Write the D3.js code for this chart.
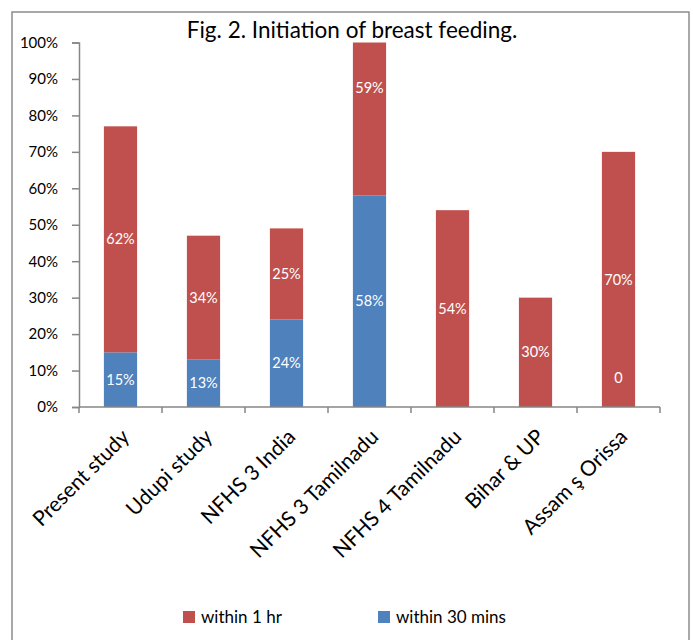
<!DOCTYPE html>
<html><head><meta charset="utf-8">
<script src="https://cdn.jsdelivr.net/npm/d3@7"></script>
<style>
body{margin:0;background:#fff;}
svg{display:block;font-family:Lato,"Open Sans",sans-serif;}
</style></head>
<body><svg id="c" width="693" height="640"></svg>
<script>
const categories = ["Present study","Udupi study","NFHS 3 India","NFHS 3 Tamilnadu","NFHS 4 Tamilnadu","Bihar & UP","Assam \u015F Orissa"];
const within30 = [15, 13, 24, 58, null, null, 0];
const within1hr = [62, 34, 25, 59, 54, 30, 70];
const yTicks = [0,10,20,30,40,50,60,70,80,90,100];
const seriesNames = ["within 1 hr","within 30 mins"];
const colors = {hr:"#C0504D", mins:"#4F81BD"};

const svg = d3.select("#c");
// frame
svg.append("rect").attr("x",12).attr("y",12).attr("width",677).attr("height",640)
  .attr("fill","none").attr("stroke","#8c8c8c").attr("stroke-width",1.5);

svg.append("text").attr("x",352).attr("y",38).attr("text-anchor","middle")
  .attr("font-size",22.5).attr("fill","#000").text("Fig. 2. Initiation of breast feeding.");

const x = d3.scaleBand().domain(categories).range([79,660]).paddingInner(0.6).paddingOuter(0.3);
const xb = d3.scaleBand().domain(categories).range([79,660]);
const y = d3.scaleLinear().domain([0,100]).range([407,42.5]);

const g = svg.append("g");
// bars
const data = categories.map((c,i)=>{
  const b = within30[i]||0;
  return {c, b30: within30[i], r: within1hr[i], lo:b, hi:b+within1hr[i]};
});
g.append("clipPath").attr("id","clip").append("rect")
  .attr("x",79).attr("y",y(100)).attr("width",581).attr("height",y(0)-y(100));
const bars = g.append("g").attr("clip-path","url(#clip)");
bars.selectAll(".b").data(data.filter(d=>d.b30)).join("rect")
  .attr("x",d=>x(d.c)).attr("width",x.bandwidth())
  .attr("y",d=>y(d.lo)).attr("height",d=>y(0)-y(d.lo)).attr("fill",colors.mins);
bars.selectAll(".r").data(data).join("rect")
  .attr("x",d=>x(d.c)).attr("width",x.bandwidth())
  .attr("y",d=>y(d.hi)).attr("height",d=>y(d.lo)-y(d.hi)).attr("fill",colors.hr);

// labels
const lab = g.append("g").attr("fill","#fff").attr("font-size",14.5).attr("text-anchor","middle");
data.forEach(d=>{
  if(d.b30!==null){
    const yy = d.b30===0 ? y(0)-29 : y(d.b30/2);
    lab.append("text").attr("x",x(d.c)+x.bandwidth()/2).attr("y",yy).attr("dy","0.35em")
      .text(d.b30===0 ? "0" : d.b30+"%");
  }
  lab.append("text").attr("x",x(d.c)+x.bandwidth()/2).attr("y",y((d.lo+d.hi)/2)).attr("dy","0.35em")
    .text(d.r+"%");
});

// y axis
const ya = svg.append("g").attr("transform","translate(79,0)")
  .call(d3.axisLeft(y).tickValues(yTicks).tickSize(7).tickFormat(d=>d+"%"));
ya.select(".domain").attr("stroke","#868686").attr("stroke-width",1.5);
ya.selectAll(".tick line").attr("stroke","#868686").attr("stroke-width",1.5);
ya.selectAll(".tick text").attr("font-size",15).attr("fill","#000").attr("x",-21)
  .attr("font-family","Lato,sans-serif");

// x axis
const xa = svg.append("g").attr("transform","translate(0,407)");
xa.append("line").attr("x1",79).attr("x2",660).attr("stroke","#868686").attr("stroke-width",1.5);
const bounds = categories.map(c=>xb(c)).concat([xb.range()[1]]);
xa.selectAll(".tk").data(bounds).join("line")
  .attr("x1",d=>d).attr("x2",d=>d).attr("y1",0).attr("y2",6).attr("stroke","#868686").attr("stroke-width",1.5);
xa.selectAll(".cl").data(categories).join("text")
  .attr("transform",c=>`translate(${xb(c)+xb.bandwidth()/2+5},26) rotate(-45)`)
  .attr("text-anchor","end").attr("dy","0.35em").attr("font-size",21).attr("fill","#000").text(c=>c);

// legend
const leg = svg.append("g").attr("font-size",17).attr("fill","#000");
const legItems = [{n:seriesNames[0],c:colors.hr,x:183},{n:seriesNames[1],c:colors.mins,x:378}];
legItems.forEach(l=>{
  leg.append("rect").attr("x",l.x).attr("y",611).attr("width",12).attr("height",12).attr("fill",l.c);
  leg.append("text").attr("x",l.x+18).attr("y",623).text(l.n);
});
</script></body></html>
